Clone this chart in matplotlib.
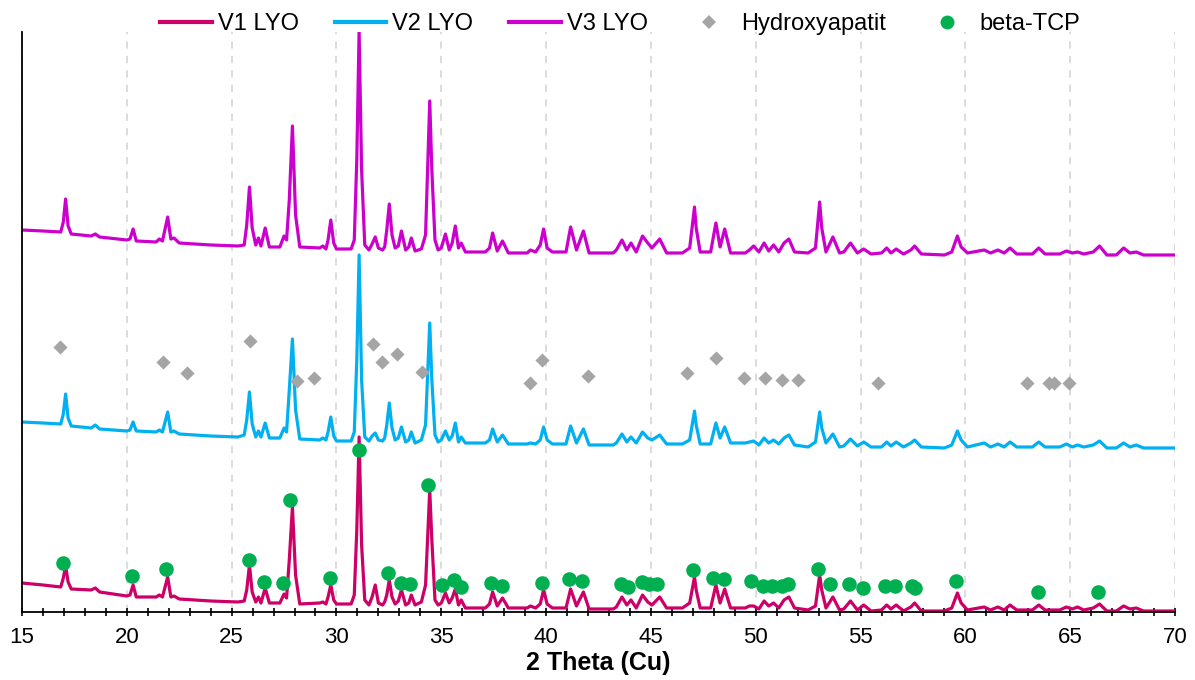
import matplotlib
matplotlib.use('Agg')
import matplotlib.pyplot as plt
from matplotlib.lines import Line2D
from matplotlib.ticker import MultipleLocator

plt.rcParams['font.family'] = ['Liberation Sans', 'DejaVu Sans']

# 2 Theta positions (deg), same scan grid for all three samples
tth = [15.0, 16.0, 16.85, 16.97, 17.08, 17.2, 17.35, 18.3, 18.5, 18.7,
       20.0, 20.15, 20.3, 20.45, 21.4, 21.55, 21.7, 21.95, 22.1, 22.25,
       22.5, 24.0, 25.3, 25.6, 25.72, 25.85, 25.98, 26.15, 26.28, 26.4,
       26.6, 26.8, 27.3, 27.5, 27.62, 27.75, 27.9, 28.05, 28.25, 29.2,
       29.35, 29.5, 29.6, 29.73, 29.87, 30.0, 30.7, 30.85, 30.97, 31.08,
       31.2, 31.35, 31.55, 31.7, 31.85, 32.0, 32.2, 32.3, 32.4, 32.52,
       32.65, 32.8, 32.95, 33.1, 33.3, 33.45, 33.57, 33.75, 34.05, 34.25,
       34.45, 34.55, 34.7, 34.85, 35.0, 35.2, 35.38, 35.52, 35.67, 35.82,
       35.95, 36.15, 37.1, 37.3, 37.45, 37.67, 37.92, 38.2, 39.1, 39.25,
       39.5, 39.72, 39.88, 40.05, 40.3, 40.95, 41.17, 41.45, 41.78, 42.05,
       43.2, 43.35, 43.62, 43.85, 44.05, 44.3, 44.6, 44.85, 45.05, 45.42,
       45.75, 46.5, 46.85, 47.08, 47.16, 47.35, 47.85, 48.1, 48.3, 48.52,
       48.8, 49.5, 49.7, 49.9, 50.15, 50.4, 50.62, 50.85, 51.1, 51.35,
       51.58, 51.85, 52.5, 52.85, 53.05, 53.15, 53.35, 53.68, 54.0, 54.2,
       54.52, 54.85, 55.15, 55.5, 56.0, 56.25, 56.45, 56.7, 57.05, 57.4,
       57.58, 57.9, 59.0, 59.35, 59.62, 59.8, 60.1, 60.9, 61.2, 61.55,
       61.85, 62.13, 62.45, 63.2, 63.5, 63.8, 64.5, 64.82, 65.1, 65.35,
       65.65, 66.1, 66.4, 66.75, 67.2, 67.55, 67.85, 68.15, 68.5, 70.0]

# intensities (a.u.), patterns stacked on top of each other
v1_lyo = [29, 27, 25, 34, 46, 30, 23, 22, 24, 20,
          16, 17, 27, 15, 15, 17, 15, 35, 15, 16,
          13, 11, 10, 11, 22, 47, 20, 10, 15, 9,
          24, 9, 9, 18, 14, 52, 105, 37, 8, 9,
          10, 8, 15, 27, 12, 8, 8, 17, 82, 175,
          67, 12, 7, 15, 27, 9, 7, 10, 17, 32,
          15, 8, 11, 22, 7, 9, 17, 7, 10, 27,
          122, 72, 12, 7, 9, 19, 9, 14, 23, 7,
          12, 4, 4, 8, 20, 6, 14, 4, 4, 6,
          4, 8, 22, 8, 4, 4, 23, 6, 20, 3,
          3, 5, 15, 7, 12, 4, 17, 10, 7, 15,
          4, 4, 9, 35, 22, 4, 4, 27, 9, 23,
          4, 4, 6, 6, 3, 11, 6, 9, 4, 12,
          15, 4, 2, 6, 37, 22, 4, 15, 2, 3,
          11, 2, 7, 1, 2, 7, 3, 7, 1, 5,
          9, 1, 1, 4, 19, 9, 2, 5, 2, 5,
          2, 7, 2, 2, 7, 2, 2, 5, 3, 5,
          2, 4, 8, 1, 1, 6, 3, 4, 1, 1]

v2_lyo = [190, 189, 188, 198, 218, 194, 186, 184, 187, 183,
          181, 182, 190, 181, 180, 182, 180, 200, 180, 181,
          178, 176, 175, 177, 192, 220, 188, 175, 181, 175,
          189, 174, 174, 184, 180, 222, 273, 202, 173, 172,
          174, 172, 180, 195, 176, 171, 171, 180, 252, 357,
          232, 175, 171, 176, 179, 172, 171, 174, 187, 209,
          184, 172, 174, 185, 170, 172, 180, 169, 172, 187,
          289, 232, 177, 170, 172, 181, 172, 176, 189, 170,
          175, 169, 169, 172, 183, 170, 177, 168, 168, 169,
          168, 172, 185, 172, 168, 168, 186, 169, 183, 167,
          167, 169, 178, 170, 175, 169, 180, 174, 172, 177,
          168, 168, 172, 201, 187, 168, 168, 189, 174, 185,
          169, 169, 170, 171, 167, 174, 169, 172, 168, 174,
          177, 167, 165, 170, 200, 184, 169, 178, 165, 166,
          173, 166, 170, 165, 165, 170, 166, 170, 165, 169,
          172, 165, 164, 167, 181, 172, 165, 169, 165, 168,
          165, 170, 165, 165, 170, 165, 165, 168, 165, 167,
          165, 167, 171, 164, 164, 169, 165, 167, 164, 164]

v3_lyo = [382, 381, 380, 390, 413, 386, 378, 376, 378, 375,
          372, 373, 383, 371, 370, 373, 371, 395, 373, 374,
          369, 367, 366, 367, 387, 425, 384, 367, 374, 366,
          384, 365, 365, 376, 372, 412, 486, 397, 365, 364,
          366, 363, 372, 392, 369, 363, 363, 372, 452, 581,
          442, 367, 362, 368, 375, 364, 362, 365, 382, 408,
          377, 364, 366, 381, 362, 365, 374, 361, 363, 377,
          511, 442, 372, 362, 364, 378, 362, 369, 386, 364,
          369, 360, 360, 364, 379, 361, 371, 359, 359, 362,
          360, 367, 383, 364, 360, 360, 385, 362, 381, 359,
          359, 362, 372, 362, 369, 360, 376, 369, 364, 373,
          359, 359, 364, 405, 384, 360, 360, 389, 365, 383,
          359, 359, 362, 366, 360, 369, 361, 367, 360, 369,
          373, 360, 359, 364, 410, 384, 360, 375, 359, 360,
          369, 359, 363, 358, 359, 364, 359, 363, 358, 362,
          366, 358, 357, 360, 376, 365, 359, 362, 359, 362,
          359, 364, 358, 358, 364, 358, 358, 361, 359, 360,
          358, 360, 366, 357, 357, 364, 359, 360, 357, 357]

# reference reflections (marker positions)
hap_tth = [16.83, 21.74, 22.86, 25.88, 28.11, 28.91, 31.76, 32.18, 32.87, 34.07,
           39.21, 39.8, 42.0, 46.7, 48.09, 49.45, 50.44, 51.24, 52.04, 55.83,
           62.96, 63.98, 64.22, 64.95]
hap_int = [265, 250, 239, 271, 231, 234, 268, 250, 258, 240,
           229, 252, 236, 239, 254, 234, 234, 232, 232, 229,
           229, 229, 229, 229]

tcp_tth = [16.97, 20.23, 21.87, 25.81, 26.52, 27.45, 27.8, 29.67, 31.07, 32.45,
           33.06, 33.53, 34.37, 35.04, 35.6, 35.92, 37.35, 37.88, 39.79, 41.09,
           41.7, 43.56, 43.91, 44.56, 44.91, 45.31, 46.99, 47.94, 48.47, 49.77,
           50.33, 50.76, 51.25, 51.52, 52.96, 53.55, 54.43, 55.12, 56.15, 56.62,
           57.45, 57.61, 59.53, 63.45, 66.31]
tcp_int = [49, 36, 43, 52, 30, 29, 112, 34, 162, 39,
           29, 28, 127, 27, 32, 25, 29, 26, 29, 33,
           31, 28, 25, 30, 28, 28, 42, 34, 33, 31,
           26, 26, 26, 28, 43, 28, 28, 24, 26, 26,
           26, 24, 31, 20, 20]

c_v1 = '#CC0066'
c_v2 = '#00B0F0'
c_v3 = '#CC00CC'
c_hap = '#A5A5A5'
c_tcp = '#00B050'

fig = plt.figure(figsize=(11.95, 6.8), dpi=100)
ax = fig.add_axes([22/1195, 68/680, 1153/1195, 580/680])

ax.plot(tth, v1_lyo, color=c_v1, lw=2.3, solid_joinstyle='round')
ax.plot(tth, v2_lyo, color=c_v2, lw=2.3, solid_joinstyle='round')
ax.plot(tth, v3_lyo, color=c_v3, lw=2.3, solid_joinstyle='round')
ax.scatter(hap_tth, hap_int, marker='D', s=52, color=c_hap, linewidths=0, zorder=5)
ax.scatter(tcp_tth, tcp_int, marker='o', s=110, color=c_tcp, linewidths=0, zorder=5)

ax.set_xlim(15, 70)
ax.set_ylim(0, 580)
ax.set_yticks([])
ax.xaxis.set_major_locator(MultipleLocator(5))
ax.xaxis.set_minor_locator(MultipleLocator(1))
ax.tick_params(axis='x', which='both', direction='inout', length=6, width=1.2,
               labelsize=16, pad=8)
ax.xaxis.grid(True, which='major', color='#D9D9D9', lw=1.3, ls=(0, (4, 4)))
ax.set_axisbelow(True)
for s in ['top', 'right']:
    ax.spines[s].set_visible(False)
for s in ['left', 'bottom']:
    ax.spines[s].set_linewidth(1.3)
    ax.spines[s].set_color('black')

ax.set_xlabel('2 Theta (Cu)', fontsize=18, fontweight='bold', labelpad=2)

handles = [Line2D([], [], color=c_v1, lw=3),
           Line2D([], [], color=c_v2, lw=3),
           Line2D([], [], color=c_v3, lw=3),
           Line2D([], [], ls='', marker='D', ms=7, color=c_hap, mew=0),
           Line2D([], [], ls='', marker='o', ms=10, color=c_tcp, mew=0)]
labels = ['V1 LYO', 'V2 LYO', 'V3 LYO', 'Hydroxyapatit', 'beta-TCP']
fig.legend(handles, labels, loc='center', bbox_to_anchor=(620/1195, 1 - 24/680),
           ncol=5, frameon=False, fontsize=17, handlelength=2.2,
           handletextpad=0.25, columnspacing=1.5)

fig.savefig('out.png', dpi=100)
